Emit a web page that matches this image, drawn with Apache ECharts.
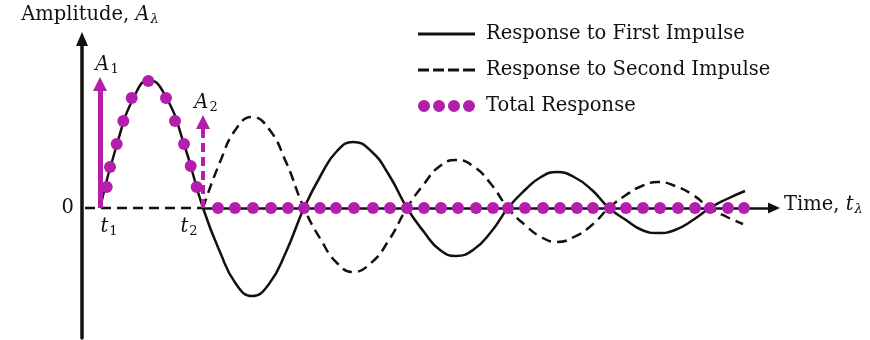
<!DOCTYPE html>
<html>
<head>
<meta charset="utf-8">
<script src="https://cdn.jsdelivr.net/npm/echarts@6/dist/echarts.min.js"></script>
<style>
  html, body { margin: 0; padding: 0; background: #fff; }
  #chart { width: 870px; height: 340px; }
</style>
</head>
<body>
<div id="chart"></div>
<script>
// Time runs along x in arbitrary units (1 unit = 10 px), amplitude along y.
const t1 = 1.8;
const t2 = 12.1;

// Response to the first impulse (starts at t1)
const firstX = [1.8, 3.5, 5.2, 6.7, 8.4, 10.2,
  12.1, 13.8, 15.4, 17.0, 18.7, 20.4,
  22.2, 23.9, 25.5, 27.1, 28.9, 30.7,
  32.5, 34.2, 35.8, 37.4, 39.1, 40.9,
  42.6, 44.3, 45.9, 47.5, 49.2, 51.0,
  52.7, 54.4, 56.0, 57.6, 59.3, 61.1,
  62.8, 64.5, 66.3];
const firstY = [0, 64, 111, 128, 111, 64,
  0, -44, -76, -88, -76, -44,
  0, 33, 57, 66, 57, 33,
  0, -24, -42, -48, -42, -24,
  0, 18, 31, 36, 31, 18,
  0, -12, -22, -25, -22, -12,
  0, 9, 17];

// Response to the second impulse: flat until t2, then the oscillation
const secondFlatX = [0.3, 12.1];
const secondFlatY = [0, 0];
const secondX = [12.1, 13.8, 15.4, 17.0, 18.7, 20.4,
  22.2, 23.9, 25.5, 27.1, 28.9, 30.7,
  32.5, 34.2, 35.8, 37.4, 39.1, 40.9,
  42.6, 44.3, 45.9, 47.5, 49.2, 51.0,
  52.7, 54.4, 56.0, 57.6, 59.3, 61.1,
  62.8, 64.5, 66.1];
const secondY = [0, 46, 79, 91, 79, 46,
  0, -32, -55, -64, -55, -32,
  0, 24, 42, 48, 42, 24,
  0, -17, -29, -34, -29, -17,
  0, 13, 22, 26, 22, 13,
  0, -9, -16];

// Total response (sum of both): a single lobe, then zero
const totalX = [2.47, 2.8, 3.47, 4.13, 4.97, 6.63, 8.4, 9.3, 10.2, 10.87, 11.47,
  13.6, 15.3, 17.1, 18.9, 20.6, 22.2, 23.8, 25.4, 27.2, 29.1, 30.8, 32.5, 34.2, 35.9, 37.6, 39.4,
  41.1, 42.6, 44.3, 46.1, 47.8, 49.5, 51.1, 52.8, 54.4, 56.1, 57.8, 59.6, 61.3, 62.8, 64.6, 66.2];
const totalY = [21, 41, 64, 87, 110, 127, 110, 87, 64, 42, 21,
  0, 0, 0, 0, 0, 0, 0, 0, 0, 0, 0, 0, 0, 0, 0, 0,
  0, 0, 0, 0, 0, 0, 0, 0, 0, 0, 0, 0, 0, 0, 0, 0];

// Impulse arrows
const impulseTimes = [t1, t2];
const impulseAmps = [124, 86];
const impulseNames = ['1', '2'];

// Time-axis labels
const xTickValues = [t1, t2];
const xTickSubs = ['1', '2'];
const timeAxisEnd = 69.2;

const seriesNames = ['Response to First Impulse', 'Response to Second Impulse', 'Total Response'];

const FONT = 'DejaVu Serif';
const INK = '#111';
const MAGENTA = '#b41eaa';

const zip = (xs, ys) => xs.map((x, i) => [x, ys[i]]);

const rich = {
  n: { fontFamily: FONT, fontSize: 19.5, color: INK },
  i: { fontFamily: FONT, fontStyle: 'italic', fontSize: 19.5, color: INK },
  s: { fontFamily: FONT, fontSize: 13, color: INK, padding: [10, 0, 0, 1] },
  si: { fontFamily: FONT, fontStyle: 'italic', fontSize: 13, color: INK, padding: [10, 0, 0, 1] }
};

// legend symbols: solid bar, four dashes, four dots
const solidIcon = 'path://M0,0h57v3h-57z';
const dashIcon = 'path://M0,0h11v3h-11zM15,0h11v3h-11zM30,0h11v3h-11zM45,0h12v3h-12z';
const dotsIcon = 'path://M0,6a6,6 0 1,0 12,0a6,6 0 1,0 -12,0z' +
  'M15,6a6,6 0 1,0 12,0a6,6 0 1,0 -12,0z' +
  'M30,6a6,6 0 1,0 12,0a6,6 0 1,0 -12,0z' +
  'M45,6a6,6 0 1,0 12,0a6,6 0 1,0 -12,0z';

const chart = echarts.init(document.getElementById('chart'), null, { renderer: 'canvas' });

const arrowLines = impulseTimes.map((t, k) => [
  { coord: [t, 0], symbol: 'none',
    lineStyle: { color: MAGENTA, width: k === 0 ? 5 : 4, type: k === 0 ? 'solid' : [9, 5] },
    label: {
      show: true, position: 'end', distance: 8, offset: [k === 0 ? 7 : 3, 0],
      formatter: '{a|A}{b|' + impulseNames[k] + '}',
      rich: {
        a: { fontFamily: FONT, fontStyle: 'italic', fontSize: 19.5, color: INK },
        b: { fontFamily: FONT, fontSize: 13, color: INK, padding: [10, 0, 0, 1] }
      }
    } },
  { coord: [t, impulseAmps[k]], symbol: 'triangle', symbolSize: [14, 14] }
]);

// t1 sits just right of its arrow, t2 just left of its arrow
const tickLabelOffsets = [[9, 0], [-14, 0]];
const tickMarks = xTickValues.map((v, k) => ({
  coord: [v, 0],
  label: {
    show: true,
    opacity: 1,
    position: 'bottom',
    distance: 6,
    offset: tickLabelOffsets[k],
    formatter: '{i|t}{s|' + xTickSubs[k] + '}',
    rich
  }
}));

chart.setOption({
  animation: false,
  backgroundColor: '#fff',
  grid: { left: 82, top: 46, width: 700, height: 292, outerBoundsMode: 'none', containLabel: false },
  legend: {
    orient: 'vertical',
    left: 413,
    top: 18,
    itemWidth: 57,
    itemHeight: 12,
    itemGap: 14,
    data: [
      { name: seriesNames[0], icon: solidIcon },
      { name: seriesNames[1], icon: dashIcon },
      { name: seriesNames[2], icon: dotsIcon }
    ],
    formatter: name => '{g|}' + name,
    textStyle: { fontFamily: FONT, fontSize: 19.5, color: INK, lineHeight: 22, rich: { g: { width: 6 } } }
  },
  xAxis: {
    type: 'value',
    min: 0,
    max: 70,
    name: '{n|Time, }{i|t}{si|λ}',
    nameLocation: 'end',
    nameGap: 2,
    nameTextStyle: { align: 'left', verticalAlign: 'middle', padding: [0, 0, 6, 0], rich },
    axisLine: { show: false, onZero: true },
    axisTick: { show: false },
    splitLine: { show: false },
    axisLabel: { show: false }
  },
  yAxis: {
    type: 'value',
    min: -130,
    max: 162,
    interval: 10,
    name: '{n|Amplitude, }{i|A}{si|λ}',
    nameLocation: 'end',
    nameGap: 20,
    nameTextStyle: { align: 'center', padding: [0, 0, 0, 16], rich },
    axisLine: {
      show: true,
      lineStyle: { color: INK, width: 3.5 },
      symbol: ['none', 'triangle'],
      symbolSize: [12, 14],
      symbolOffset: [0, 7]
    },
    axisTick: { show: false },
    splitLine: { show: false },
    axisLabel: {
      margin: 8,
      fontFamily: FONT,
      fontSize: 19.5,
      color: INK,
      formatter: v => (v === 0 ? '0' : '')
    }
  },
  series: [
    {
      name: seriesNames[0],
      type: 'line',
      smooth: 0.5,
      symbol: 'none',
      data: zip(firstX, firstY),
      lineStyle: { color: INK, width: 2.5 },
      itemStyle: { color: INK },
      z: 2
    },
    {
      name: seriesNames[1],
      type: 'line',
      smooth: 0.5,
      symbol: 'none',
      data: zip(secondX, secondY),
      lineStyle: { color: INK, width: 2.5, type: [10, 6] },
      itemStyle: { color: INK },
      z: 2
    },
    {
      name: 'second-flat',
      type: 'line',
      symbol: 'none',
      data: zip(secondFlatX, secondFlatY),
      lineStyle: { color: INK, width: 2.5, type: [10, 6] },
      z: 2
    },
    {
      name: 'time-axis',
      type: 'line',
      data: [],
      silent: true,
      markLine: {
        silent: true,
        symbol: ['none', 'triangle'],
        symbolSize: [11, 12],
        label: { show: false },
        lineStyle: { color: INK, width: 2.5, type: 'solid' },
        data: [[{ coord: [t2, 0] }, { coord: [timeAxisEnd, 0] }]]
      },
      markPoint: {
        silent: true,
        symbol: 'circle',
        symbolSize: 2,
        itemStyle: { color: 'rgba(0,0,0,0)' },
        label: { show: true, color: INK },
        data: tickMarks
      },
      z: 3
    },
    {
      name: seriesNames[2],
      type: 'scatter',
      symbol: 'circle',
      symbolSize: 12,
      data: zip(totalX, totalY),
      itemStyle: { color: MAGENTA, opacity: 1 },
      z: 5
    },
    {
      name: 'impulses',
      type: 'line',
      data: [],
      silent: true,
      markLine: {
        silent: true,
        animation: false,
        data: arrowLines,
        itemStyle: { color: MAGENTA }
      },
      z: 6
    }
  ]
});
</script>
</body>
</html>
